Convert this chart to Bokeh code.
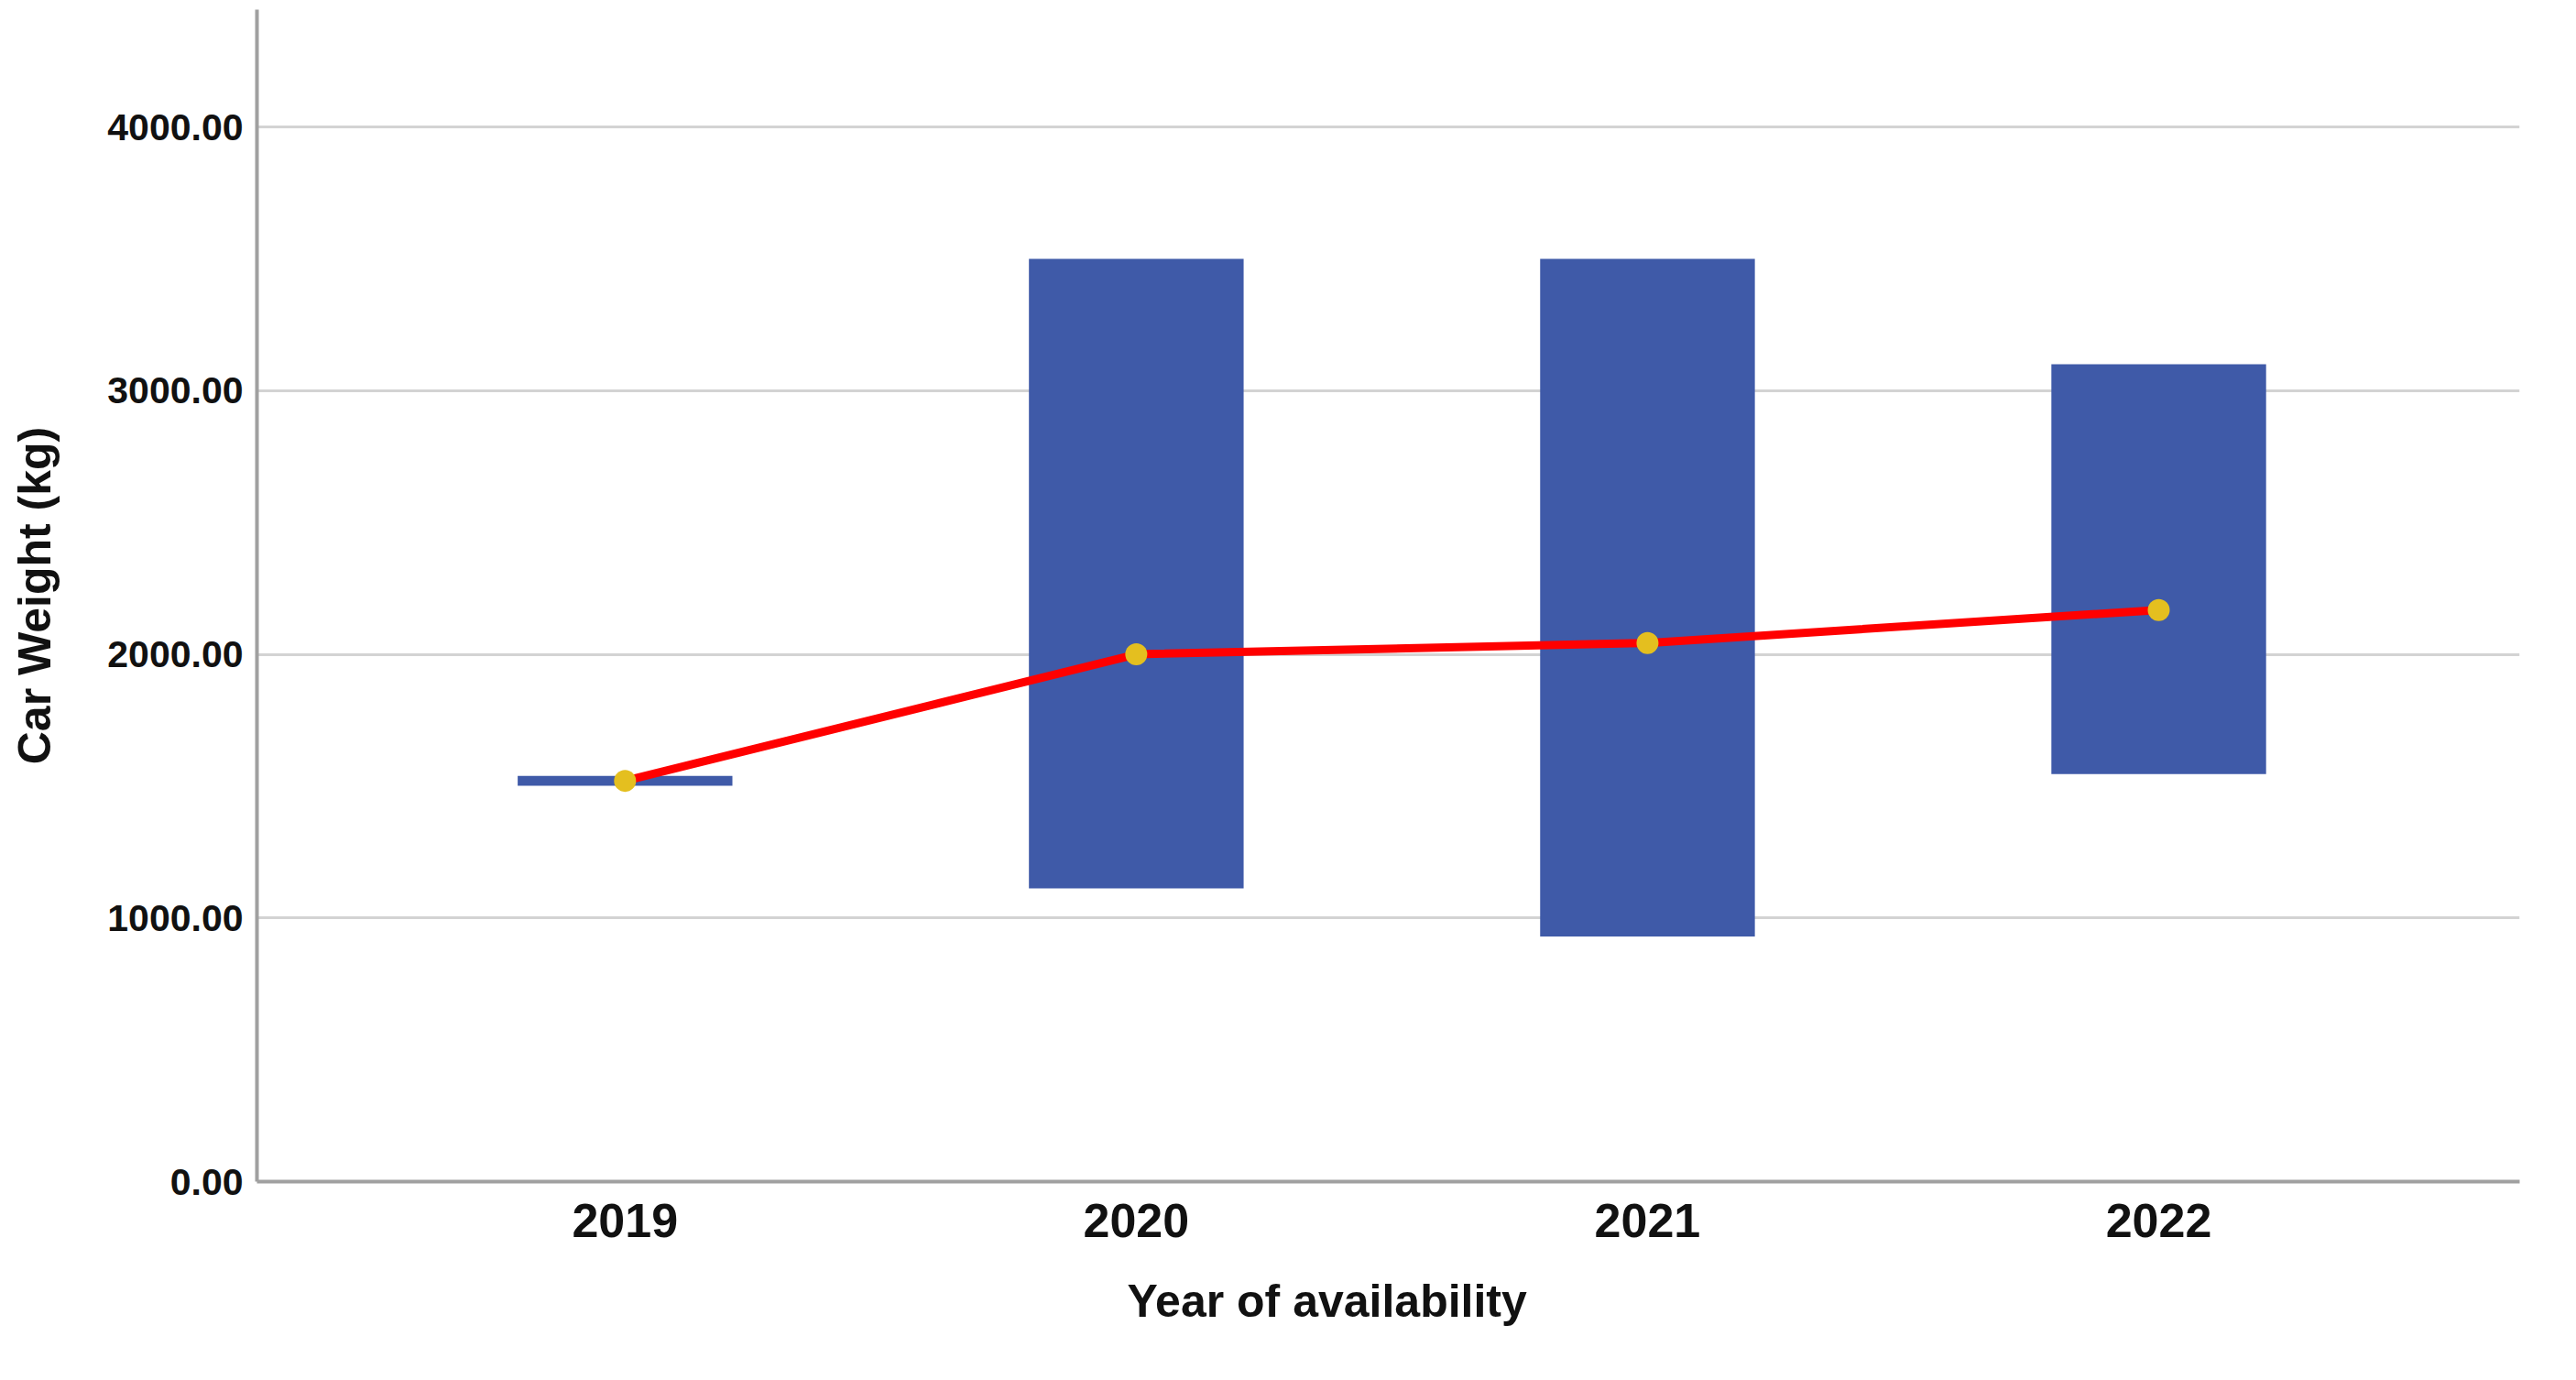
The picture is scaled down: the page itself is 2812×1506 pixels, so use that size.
from bokeh.plotting import figure
from bokeh.models import ColumnDataSource, Range1d, FixedTicker, PrintfTickFormatter, Title
from bokeh.embed import file_html
from bokeh.resources import INLINE

# ---- data ----
years = ["2019", "2020", "2021", "2022"]
weight_low = [1501, 1112, 930, 1546]
weight_high = [1539, 3500, 3500, 3100]
weight_mean = [1520, 2000, 2043, 2168]
y_ticks = [0, 1000, 2000, 3000, 4000]

xpos = list(range(len(years)))
src = ColumnDataSource(dict(x=xpos, low=weight_low, high=weight_high, mean=weight_mean))

FONT = "Liberation Sans"

p = figure(width=2790, height=1490, output_backend="svg", toolbar_location=None,
           x_range=Range1d(-0.72, 3.706), y_range=Range1d(0, 4445),
           min_border_left=280, min_border_right=40, min_border_top=10, min_border_bottom=201)

p.vbar(x="x", bottom="low", top="high", width=0.42, source=src,
       fill_color="#3f5aa8", line_color=None)
p.line(x="x", y="mean", source=src, line_color="#ff0000", line_width=9)
p.scatter(x="x", y="mean", source=src, size=24, fill_color="#e4bf1f", line_color=None)

p.outline_line_color = None
p.background_fill_color = "white"
p.border_fill_color = "white"

# grids
p.xgrid.grid_line_color = None
p.ygrid.ticker = FixedTicker(ticks=y_ticks)
p.ygrid.grid_line_color = "#d3d3d3"
p.ygrid.grid_line_width = 3

# x axis
p.xaxis.ticker = FixedTicker(ticks=xpos)
p.xaxis.major_label_overrides = {i: y for i, y in zip(xpos, years)}
p.xaxis.major_label_text_font_size = "52px"
p.xaxis.major_label_standoff = 18

# x axis title (off-centre to the left, as in the reference)
xtitle = Title(text="Year of availability", align="left", offset=950, standoff=74,
               text_font=FONT, text_font_style="bold", text_font_size="50px",
               text_color="#111111")
p.add_layout(xtitle, "below")

# y axis
p.yaxis.ticker = FixedTicker(ticks=y_ticks)
p.yaxis.formatter = PrintfTickFormatter(format="%.2f")
p.yaxis.axis_label = "Car Weight (kg)"
p.yaxis.major_label_text_font_size = "41px"
p.yaxis.major_label_standoff = 9
p.yaxis.axis_label_standoff = 48
p.yaxis.axis_label_text_font_size = "50px"

for ax in (p.xaxis, p.yaxis):
    ax.axis_line_color = "#a0a0a0"
    ax.axis_line_width = 4
    ax.major_tick_line_color = None
    ax.minor_tick_line_color = None
    ax.major_label_text_font = FONT
    ax.major_label_text_font_style = "bold"
    ax.major_label_text_color = "#111111"
    ax.axis_label_text_font = FONT
    ax.axis_label_text_font_style = "bold"
    ax.axis_label_text_color = "#111111"

open("out.html", "w").write(file_html(p, INLINE))
